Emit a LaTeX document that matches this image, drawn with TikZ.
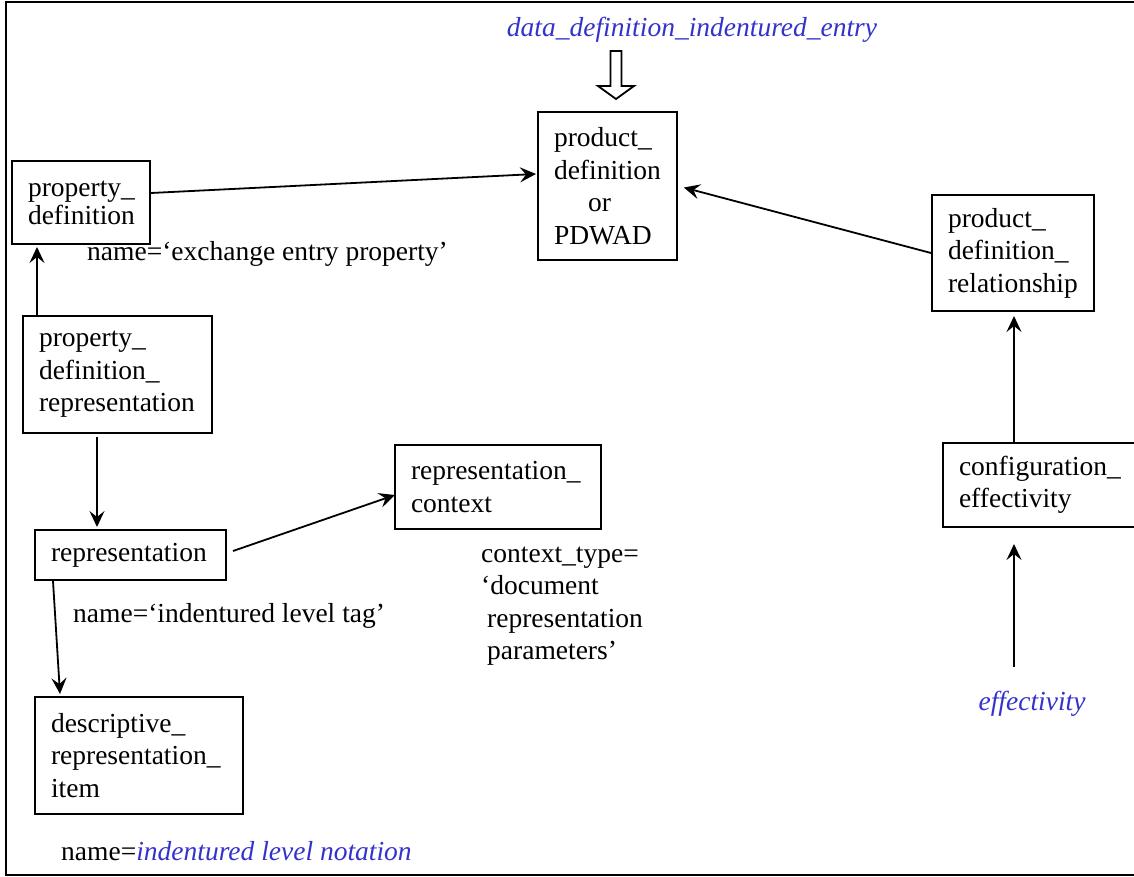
\documentclass[tikz,border=0pt]{standalone}
\usepackage{fontspec}
\setmainfont{Liberation Serif}
\usetikzlibrary{arrows.meta,calc}
\definecolor{noteblue}{RGB}{51,51,204}

\begin{document}
\begin{tikzpicture}[x=1pt,y=-1pt,
  txt/.style={font=\fontsize{27.5}{32.5}\selectfont},
  entity/.style={txt, draw, line width=2pt, anchor=north west, align=left, inner ysep=0pt},
  link/.style={line width=1.8pt, -{Stealth[length=16pt,width=15pt,inset=6pt]}},
  note/.style={txt, anchor=base west, inner sep=0pt},
  block/.style={txt, anchor=north west, align=left, inner sep=0pt},
  entityref/.style={txt, text=noteblue, font=\fontsize{27.5}{32.5}\selectfont\itshape, inner sep=0pt}]

\useasboundingbox (0,0) rectangle (1134,877);
\clip (0,0) rectangle (1134,877);

% outer frame (runs off the right edge)
\draw[line width=1.8pt] (1140,2) -- (6,2) -- (6,875) -- (1140,875);

% entities
\node[entity, text width=107pt, inner xsep=16pt, minimum height=148pt] (pd) at (537,111)
  {product\_\\definition\\\hspace*{34pt}or\\PDWAD};
\node[entity, text width=106pt, inner xsep=16pt, minimum height=83pt,
  font=\fontsize{27.5}{28}\selectfont] (prop) at (11,160)
  {property\_\\definition};
\node[entity, text width=157pt, inner xsep=16pt, minimum height=117pt] (pdr) at (22,315)
  {property\_\\definition\_\\representation};
\node[entity, text width=159pt, inner xsep=16pt, minimum height=50pt] (rep) at (34,529)
  {representation};
\node[entity, text width=174pt, inner xsep=16pt, minimum height=84pt] (rc) at (394,444)
  {representation\_\\context};
\node[entity, text width=176pt, inner xsep=16pt, minimum height=117pt] (dri) at (34,696)
  {descriptive\_\\representation\_\\item};
\node[entity, text width=130pt, inner xsep=16pt, minimum height=116pt] (pdrel) at (931,194)
  {product\_\\definition\_\\relationship};
\node[entity, text width=166pt, inner xsep=16pt, minimum height=84pt] (ce) at (942,442)
  {configuration\_\\effectivity};

% annotations
\node[entityref, anchor=base] (ddie) at (692,37) {data\_definition\_indentured\_entry};
\node[note] (pdname) at (87,260) {name=‘exchange entry property’};
\node[note] (repname) at (73,622) {name=‘indentured level tag’};
\node[block] (ctxtype) at (481,542)
  {\rule{0pt}{20pt}context\_type=\\‘document\\\hspace*{6pt}representation\\\hspace*{6pt}parameters’};
\node[note] (drinote) at (61,860) {name=\textcolor{noteblue}{\itshape indentured level notation}};
\node[entityref, anchor=base] (eff) at (1032,710) {effectivity};

% hollow arrow below the entry name
\draw[line width=1.8pt, fill=white]
  (610.5,51) -- (621.5,51) -- (621.5,86) -- (634,86) -- (616,99)
  -- (598,86) -- (610.5,86) -- cycle;

% relationships
\draw[link] ([yshift=9.5pt]prop.east) -- ([yshift=12pt,xshift=-1pt]pd.west);
\draw[link, shorten >=6pt] (pdrel.west) -- (pd.east);
\draw[link, shorten >=2pt] ([xshift=15pt]pdr.north west) -- ([xshift=15pt]pdr.north west |- prop.south);
\draw[link, shorten <=3pt, shorten >=2pt] ([xshift=75pt]pdr.south west) -- ([xshift=75pt]pdr.south west |- rep.north);
\draw[link] ([xshift=6pt,yshift=4pt]rep.east) -- ([yshift=-8pt,xshift=1pt]rc.west);
\draw[link] ([xshift=19pt]rep.south west) -- ([xshift=26pt,yshift=2pt]dri.north west);
\draw[link, shorten >=4pt] ([xshift=72pt]ce.north west) -- ([xshift=72pt]ce.north west |- pdrel.south);
\draw[link, shorten >=16pt] ([xshift=-18pt,yshift=23pt]eff.north) -- ([xshift=-18pt]eff.north |- ce.south);

\end{tikzpicture}
\end{document}
